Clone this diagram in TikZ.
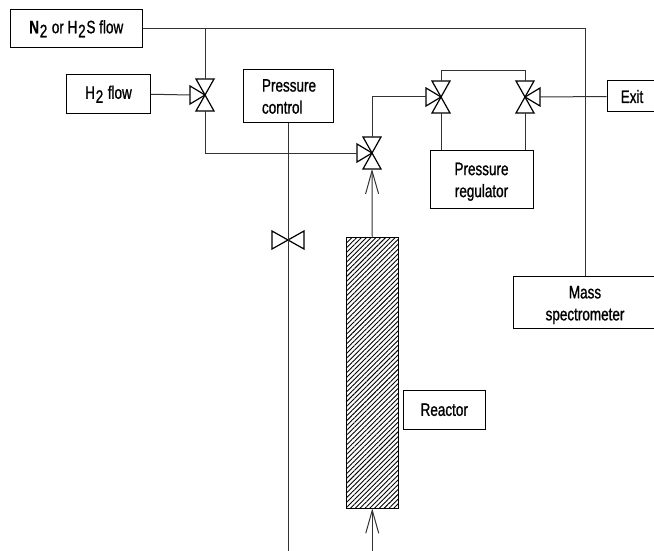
\documentclass[tikz,border=0pt]{standalone}
\usepackage{fontspec}
\setmainfont[FakeStretch=0.75,FakeBold=1]{Liberation Sans}
\usetikzlibrary{arrows.meta,patterns.meta}
\newcommand{\lowtwo}{\kern.8pt\raisebox{-4pt}{2}\kern.8pt}
\newcommand{\topgap}{\rule{0pt}{18pt}}
\tikzset{
 box/.style={draw,line width=1pt,inner sep=0pt,align=center,font=\fontsize{18}{22}\selectfont},
 pipe/.style={line width=1pt,black!80},
 pics/valve/.style={code={
  \draw[line width=1.2pt,line join=miter] (-9,-16)--(9,-16)--(-9,16)--(9,16)--cycle;
  \draw[line width=1.2pt] (0,0)--(#1*15,-9)--(#1*15,9)--cycle;
  \coordinate (-top) at (0,-16);
  \coordinate (-bot) at (0,16);
  \coordinate (-side) at (#1*15,0);
 }},
 pics/gate/.style={code={
  \draw[line width=1.2pt] (-16,-9)--(-16,9)--(16,-9)--(16,9)--cycle;
 }}
}
\begin{document}
\begin{tikzpicture}[x=1pt,y=-1pt,>={Straight Barb[length=23pt,width=13pt]}]
 \path[use as bounding box,clip] (0,0) rectangle (654,551);
 \node[box,minimum width=131.5pt,minimum height=38.5pt] (feed) at (76.25,28.75) {\textbf{N}\lowtwo{} or H\lowtwo{}S flow};
 \node[box,minimum width=84pt,minimum height=39.5pt] (hflow) at (108.5,94.25) {H\lowtwo{} flow};
 \node[box,minimum width=90pt,minimum height=53pt,align=left,text width=52pt] (ctrl) at (288,96.5) {Pressure\\control};
 \node[box,minimum width=103pt,minimum height=58pt] (regul) at (481.5,179) {\topgap Pressure\\regulator};
 \node[box,minimum width=50pt,minimum height=31pt] (exit) at (632,96.5) {Exit};
 \node[box,minimum width=144pt,minimum height=51.5pt] (mass) at (585,302.25) {\topgap Mass\\spectrometer};
 \node[box,minimum width=81.5pt,minimum height=39.5pt] (label) at (444.25,409.75) {Reactor};
 \node[draw,line width=1pt,pattern={Lines[angle=45,distance=3.4pt,line width=.9pt]},minimum width=51.5pt,minimum height=271pt,inner sep=0pt] (reactor) at (372.25,372.5) {};

 \pic (vh) at (205,95) {valve=-1};
 \pic (vr) at (372,153) {valve=-1};
 \pic (vi) at (441,97) {valve=-1};
 \pic (ve) at (525,97) {valve=1};
 \pic at (288,240) {gate};

 \coordinate (ctrlend) at (288,551);
 \coordinate (feedin) at (372.25,551);

 \draw[pipe] (feed.east) -| (mass.north);
 \draw[pipe] (vh-top) -- (vh-top|-feed.east);
 \draw[pipe] (hflow.east) -- (vh-side);
 \draw[pipe] (vh-bot) |- (vr-side);
 \draw[pipe] (ctrl.south) -- (ctrlend);
 \draw[pipe] (vr-top) |- (vi-side);
 \draw[pipe] (vi-top) -- ++(0,-10) -| (ve-top);
 \draw[pipe] (vi-bot) -- (vi-bot|-regul.north);
 \draw[pipe] (ve-bot) -- (ve-bot|-regul.north);
 \draw[pipe] (ve-side) -- (exit.west);
 \draw[pipe,->] (reactor.north) -- (vr-bot);
 \draw[pipe,->] (feedin) -- (reactor.south);
\end{tikzpicture}
\end{document}
